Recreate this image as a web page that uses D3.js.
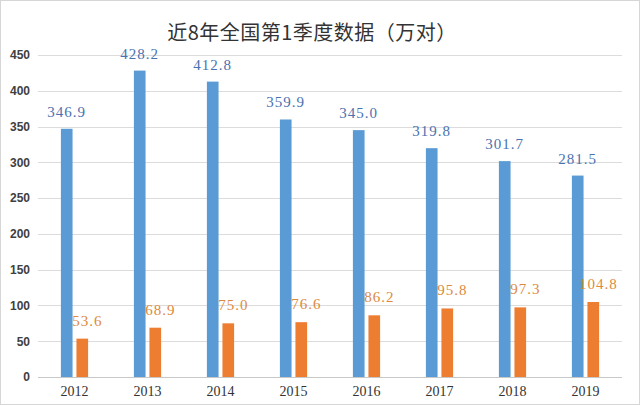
<!DOCTYPE html>
<html><head><meta charset="utf-8">
<script src="https://cdn.jsdelivr.net/npm/d3@7"></script>
<style>body{margin:0;background:#fff}svg{display:block}</style>
</head><body>
<script>
const years = ["2012","2013","2014","2015","2016","2017","2018","2019"];
const marriages = [346.9, 428.2, 412.8, 359.9, 345.0, 319.8, 301.7, 281.5];
const divorces = [53.6, 68.9, 75.0, 76.6, 86.2, 95.8, 97.3, 104.8];
const yTicks = [0, 50, 100, 150, 200, 250, 300, 350, 400, 450];
const title = "近8年全国第1季度数据（万对）";

(function(){
const W = 640, H = 405;
const svg = d3.select("body").append("svg").attr("width", W).attr("height", H);
svg.append("rect").attr("x",0.5).attr("y",0.5).attr("width",W-1).attr("height",H-1)
  .attr("fill","#fff").attr("stroke","#d6d6d6");

const mLeft = 38, mRight = 622, mTop = 55, mBottom = 377;
const y = d3.scaleLinear().domain([0,450]).range([mBottom, mTop]);
const x0 = d3.scaleBand().domain(years).range([mLeft, mRight]).padding(0);
const keys = ["m","d"];
const x1 = d3.scaleBand().domain(keys).range([0,35]).padding(0.25);
const offset = (x0.bandwidth() - 35) / 2;

svg.append("text").attr("x", 312).attr("y", 40).attr("text-anchor","middle")
  .attr("font-family","'Noto Sans CJK SC'").attr("font-size",20).attr("fill","#333")
  .attr("letter-spacing","0.5px")
  .text(title);

svg.append("g").selectAll("line").data(yTicks).join("line")
  .attr("x1", mLeft).attr("x2", mRight)
  .attr("y1", d => Math.round(y(d)) + 0.5).attr("y2", d => Math.round(y(d)) + 0.5)
  .attr("stroke", d => d === 0 ? "#c8c8c8" : "#dcdcdc").attr("stroke-width", 1);

const yAxis = d3.axisLeft(y).tickValues(yTicks).tickSize(0).tickPadding(0);
const ga = svg.append("g").attr("transform", `translate(30,0)`).call(yAxis);
ga.select(".domain").remove();
ga.selectAll("text").attr("font-family","'Liberation Sans', Arial, sans-serif")
  .attr("font-weight","bold").attr("font-size",12).attr("fill","#404040");

const xAxis = d3.axisBottom(x0).tickSize(0).tickPadding(0);
const gx = svg.append("g").attr("transform", `translate(0,386)`).call(xAxis);
gx.select(".domain").remove();
gx.selectAll("text").attr("font-family","'Liberation Serif', serif")
  .attr("font-size",14).attr("fill","#333");

const series = [
  {key:"m", values: marriages, color:"#5b9bd5", label:"#4a72b0", dx:0, dy:-12},
  {key:"d", values: divorces, color:"#ed7d31", label:"#dd8a3e", dx:5, dy:-13}
];
series.forEach(s => {
  const g = svg.append("g");
  g.selectAll("rect").data(years).join("rect")
    .attr("x", d => x0(d) + offset + x1(s.key))
    .attr("width", x1.bandwidth())
    .attr("y", (d,i) => y(s.values[i]))
    .attr("height", (d,i) => y(0) - y(s.values[i]))
    .attr("fill", s.color);
  g.selectAll("text").data(years).join("text")
    .attr("x", d => x0(d) + offset + x1(s.key) + x1.bandwidth()/2 + s.dx)
    .attr("y", (d,i) => y(s.values[i]) + s.dy)
    .attr("text-anchor","middle")
    .attr("font-family","'Liberation Serif', serif").attr("font-size",15)
    .attr("letter-spacing","1px")
    .attr("fill", s.label)
    .text((d,i) => s.values[i].toFixed(1));
});
})();
</script>
</body></html>
